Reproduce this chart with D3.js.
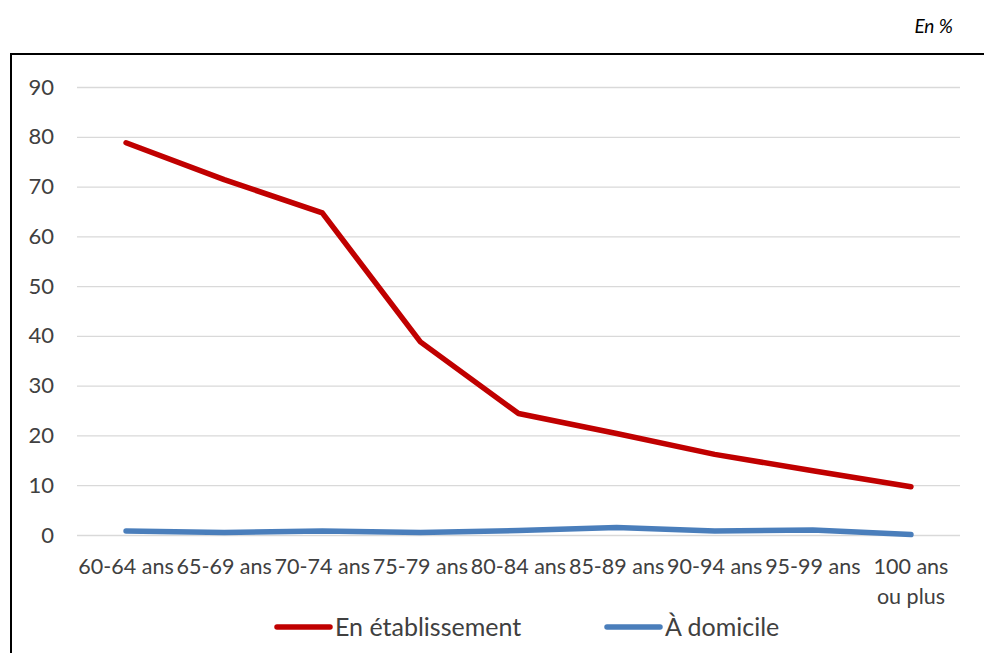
<!DOCTYPE html>
<html>
<head>
<meta charset="utf-8">
<script src="https://cdn.jsdelivr.net/npm/d3@7"></script>
<style>
  html, body { margin: 0; padding: 0; background: #fff; }
  svg { display: block; font-family: Lato, "Open Sans", sans-serif; }
</style>
</head>
<body>
<svg id="chart" width="984" height="653"></svg>
<script>
const categories = ["60-64 ans", "65-69 ans", "70-74 ans", "75-79 ans", "80-84 ans", "85-89 ans", "90-94 ans", "95-99 ans", "100 ans ou plus"];
const seriesNames = ["En établissement", "À domicile"];
const etablissement = [78.8, 71.4, 64.7, 38.8, 24.4, 20.4, 16.2, 12.9, 9.7];
const domicile = [0.8, 0.5, 0.8, 0.5, 0.9, 1.5, 0.8, 1.0, 0.1];
const yTicks = [0, 10, 20, 30, 40, 50, 60, 70, 80, 90];
const unitLabel = "En %";
const colors = ["#c00000", "#4a7ebb"];

const svg = d3.select("#chart");
const textColor = "#404040";

// frame
svg.append("path")
  .attr("d", "M 11 660 L 11 54 L 990 54")
  .attr("fill", "none").attr("stroke", "#000").attr("stroke-width", 2);

svg.append("text")
  .attr("x", 953).attr("y", 33)
  .attr("text-anchor", "end")
  .attr("font-style", "italic")
  .attr("font-size", 19)
  .attr("fill", "#000")
  .text(unitLabel);

const x = d3.scaleBand().domain(categories).range([77, 960]);
const y = d3.scaleLinear().domain([0, 90]).range([535, 87]);

// y grid + labels
const yAxis = svg.append("g")
  .attr("transform", "translate(77,0)")
  .call(d3.axisLeft(y).tickValues(yTicks).tickSize(-(960 - 77)).tickPadding(23).tickFormat(d3.format("d")));
yAxis.select(".domain").remove();
yAxis.selectAll(".tick line").attr("stroke", "#d9d9d9").attr("stroke-width", 1.3);
yAxis.selectAll(".tick text").attr("fill", textColor).attr("font-size", 22).attr("font-family", "Lato");

// x labels
const xAxis = svg.append("g")
  .attr("transform", "translate(0,535)")
  .call(d3.axisBottom(x).tickSize(0).tickPadding(24));
xAxis.select(".domain").remove();
xAxis.selectAll(".tick text").attr("fill", textColor).attr("font-size", 21.5).attr("font-family", "Lato")
  .each(function(d) {
    const t = d3.select(this);
    const words = d.split(" ");
    const maxW = x.bandwidth();
    t.text(null);
    let line = [];
    let lines = [];
    const probe = t.append("tspan");
    words.forEach(w => {
      const test = line.concat([w]).join(" ");
      probe.text(test);
      if (probe.node().getComputedTextLength() > maxW && line.length) {
        lines.push(line.join(" "));
        line = [w];
      } else {
        line.push(w);
      }
    });
    lines.push(line.join(" "));
    probe.remove();
    const dy0 = t.attr("dy");
    lines.forEach((l, i) => {
      t.append("tspan").attr("x", 0).attr("dy", i === 0 ? dy0 : "1.37em").text(l);
    });
  });

const line = d3.line()
  .x((d, i) => x(categories[i]) + x.bandwidth() / 2)
  .y(d => y(d));

[etablissement, domicile].forEach((s, k) => {
  svg.append("path")
    .datum(s)
    .attr("d", line)
    .attr("fill", "none")
    .attr("stroke", colors[k])
    .attr("stroke-width", 5.5)
    .attr("stroke-linecap", "round")
    .attr("stroke-linejoin", "round");
});

// legend
const legendX = [277, 607];
seriesNames.forEach((n, k) => {
  const g = svg.append("g").attr("transform", `translate(${legendX[k]},627)`);
  g.append("line").attr("x1", 0).attr("x2", 53).attr("y1", 0).attr("y2", 0)
    .attr("stroke", colors[k]).attr("stroke-width", 5.5).attr("stroke-linecap", "round");
  g.append("text").attr("x", 58).attr("y", 0).attr("dy", "0.35em")
    .attr("font-size", 25).attr("fill", textColor).text(n);
});
</script>
</body>
</html>
